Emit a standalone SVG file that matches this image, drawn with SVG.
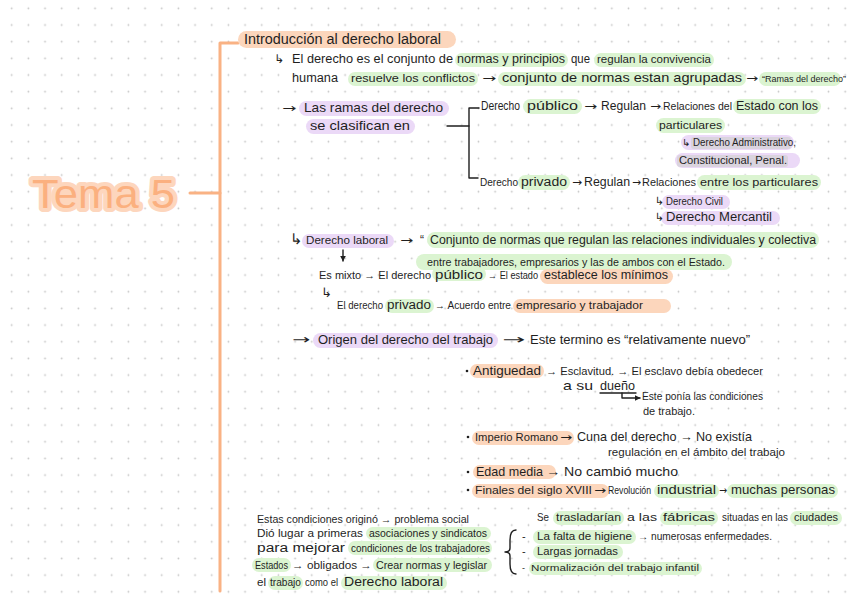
<svg xmlns="http://www.w3.org/2000/svg" width="848" height="599" viewBox="0 0 848 599">
<style>
.t{font-family:"Liberation Sans",Arial,sans-serif;fill:#1f1f1f;}
.a{font-family:"DejaVu Sans","Liberation Sans",sans-serif;fill:#1f1f1f;}
.hg{fill:#dbf4d1;}
.hp{fill:#ebd9f7;}
.ho{fill:#fcd6bc;}
.gr{fill:#dad4de;}
.ln{fill:none;stroke:#1f1f1f;stroke-width:1.4;stroke-linecap:round;stroke-linejoin:round;}
.ob{fill:none;stroke:#f9b284;stroke-width:3;stroke-linecap:round;stroke-linejoin:round;}
</style>
<defs>
<pattern id="dots" x="3.37" y="0" width="16.67" height="16.67" patternUnits="userSpaceOnUse">
<circle cx="8.33" cy="8.33" r="0.9" fill="#c4c4c4"/>
</pattern>
<marker id="ah" viewBox="0 0 10 10" refX="9" refY="5" markerWidth="6" markerHeight="6" orient="auto" markerUnits="userSpaceOnUse">
<path d="M0,0 L10,5 L0,10 z" fill="#1f1f1f"/>
</marker>
</defs>
<rect width="848" height="599" fill="#ffffff"/>
<rect width="848" height="599" fill="url(#dots)"/>

<g id="connectors">
<path class="ob" d="M238 43 H220 V591"/>
<path class="ob" d="M190 193 H220"/>
<path class="ln" d="M447 126 H469"/>
<path class="ln" d="M479 108 H469 V178 H478"/>
<path class="ln" d="M343 250 V261" marker-end="url(#ah)"/>
<path class="ln" d="M622 393 V398 H640" marker-end="url(#ah)"/>
<path class="ln" d="M516 530 Q510 530 510 540 V548 Q510 552 505 552 Q510 552 510 556 V564 Q510 574 516 574"/>
</g>

<g id="tema5">
<text x="32" y="208" font-family="Liberation Sans,Arial,sans-serif" font-size="40" textLength="143" lengthAdjust="spacingAndGlyphs" fill="#fbb07f" stroke="#fdd6bd" stroke-width="8" stroke-linejoin="round" paint-order="stroke">Tema 5</text>
</g>

<g id="titulo">
<rect class="ho" x="238" y="31" width="218" height="17" rx="8.5"/>
<text class="t" font-size="14" x="244" y="44" textLength="197" lengthAdjust="spacingAndGlyphs">Introducción al derecho laboral</text>
</g>

<g id="definicion">
<rect class="hg" x="455" y="53" width="113" height="14" rx="7"/>
<rect class="hg" x="594" y="53" width="120" height="14" rx="7"/>
<text class="a" font-size="12" x="274" y="63">↳</text>
<text class="t" font-size="12" x="292" y="63" textLength="161" lengthAdjust="spacingAndGlyphs">El derecho es el conjunto de</text>
<text class="t" font-size="12" x="457" y="63" textLength="108" lengthAdjust="spacingAndGlyphs">normas y principios</text>
<text class="t" font-size="12" x="571" y="63" textLength="19" lengthAdjust="spacingAndGlyphs">que</text>
<text class="t" font-size="11.5" x="597" y="63" textLength="114" lengthAdjust="spacingAndGlyphs">regulan la convivencia</text>
<rect class="hg" x="348" y="72" width="130" height="14" rx="7"/>
<rect class="hg" x="498" y="72" width="248" height="14" rx="7"/>
<rect class="hg" x="759" y="72" width="82" height="14" rx="7"/>
<text class="t" font-size="12" x="292" y="82" textLength="46" lengthAdjust="spacingAndGlyphs">humana</text>
<text class="t" font-size="11.5" x="351" y="82" textLength="124" lengthAdjust="spacingAndGlyphs">resuelve los conflictos</text>
<text class="a" font-size="11" x="482" y="82" textLength="14" lengthAdjust="spacingAndGlyphs">→</text>
<text class="t" font-size="13" x="502" y="82" textLength="240" lengthAdjust="spacingAndGlyphs">conjunto de normas estan agrupadas</text>
<text class="a" font-size="11" x="746" y="82" textLength="12" lengthAdjust="spacingAndGlyphs">→</text>
<text class="t" font-size="9" x="762" y="82">“Ramas del derecho”</text>
</g>

<g id="ramas">
<text class="a" font-size="12" x="282" y="112" textLength="14" lengthAdjust="spacingAndGlyphs">→</text>
<rect class="hp" x="299" y="101" width="150" height="15" rx="7.5"/>
<text class="t" font-size="13.5" x="304" y="112" textLength="139" lengthAdjust="spacingAndGlyphs">Las ramas del derecho</text>
<rect class="hp" x="306" y="119" width="109" height="15" rx="7.5"/>
<text class="t" font-size="13" x="310" y="130" textLength="100" lengthAdjust="spacingAndGlyphs">se clasifican en</text>
</g>

<g id="derecho-publico">
<rect class="hg" x="523" y="99" width="59" height="15" rx="7.5"/>
<rect class="hg" x="733" y="99" width="88" height="15" rx="7.5"/>
<text class="t" font-size="12" x="481" y="110" textLength="39" lengthAdjust="spacingAndGlyphs">Derecho</text>
<text class="t" font-size="13" x="527" y="110" textLength="51" lengthAdjust="spacingAndGlyphs">público</text>
<text class="a" font-size="11" x="584" y="110" textLength="13" lengthAdjust="spacingAndGlyphs">→</text>
<text class="t" font-size="12" x="601" y="110" textLength="45" lengthAdjust="spacingAndGlyphs">Regulan</text>
<text class="a" font-size="11" x="650" y="110" textLength="11" lengthAdjust="spacingAndGlyphs">→</text>
<text class="t" font-size="11" x="663" y="110" textLength="69" lengthAdjust="spacingAndGlyphs">Relaciones del</text>
<text class="t" font-size="12" x="736" y="110" textLength="82" lengthAdjust="spacingAndGlyphs">Estado con los</text>
<rect class="hg" x="656" y="118" width="69" height="15" rx="7.5"/>
<text class="t" font-size="11" x="659" y="129" textLength="63" lengthAdjust="spacingAndGlyphs">particulares</text>
<rect class="hp" x="681" y="135" width="113" height="15" rx="7.5"/>
<rect class="gr" x="691" y="137" width="100" height="12" rx="3"/>
<text class="a" font-size="10" x="682" y="146">↳</text>
<text class="t" font-size="10" x="693" y="146" textLength="103" lengthAdjust="spacingAndGlyphs">Derecho Administrativo,</text>
<rect class="hp" x="675" y="153" width="125" height="15" rx="7.5"/>
<rect class="gr" x="677" y="155" width="111" height="12" rx="3"/>
<text class="t" font-size="10.5" x="679" y="164" textLength="108" lengthAdjust="spacingAndGlyphs">Constitucional, Penal.</text>
</g>

<g id="derecho-privado">
<rect class="hg" x="518" y="175" width="52" height="15" rx="7.5"/>
<rect class="hg" x="697" y="175" width="124" height="15" rx="7.5"/>
<text class="t" font-size="11.5" x="480" y="186" textLength="38" lengthAdjust="spacingAndGlyphs">Derecho</text>
<text class="t" font-size="12.5" x="521" y="186" textLength="46" lengthAdjust="spacingAndGlyphs">privado</text>
<text class="a" font-size="11" x="572" y="186" textLength="10" lengthAdjust="spacingAndGlyphs">→</text>
<text class="t" font-size="12" x="584" y="186" textLength="46" lengthAdjust="spacingAndGlyphs">Regulan</text>
<text class="a" font-size="11" x="632" y="186" textLength="9" lengthAdjust="spacingAndGlyphs">→</text>
<text class="t" font-size="11.5" x="642" y="186" textLength="54" lengthAdjust="spacingAndGlyphs">Relaciones</text>
<text class="t" font-size="11.5" x="700" y="186" textLength="118" lengthAdjust="spacingAndGlyphs">entre los particulares</text>
<rect class="hp" x="662" y="195" width="68" height="14" rx="7"/>
<text class="a" font-size="11" x="655" y="205">↳</text>
<text class="t" font-size="10" x="666" y="205" textLength="57" lengthAdjust="spacingAndGlyphs">Derecho Civil</text>
<rect class="hp" x="661" y="211" width="119" height="14" rx="7"/>
<text class="a" font-size="11" x="655" y="221">↳</text>
<text class="t" font-size="12" x="666" y="221" textLength="106" lengthAdjust="spacingAndGlyphs">Derecho Mercantil</text>
</g>

<g id="derecho-laboral">
<text class="a" font-size="15" x="290" y="244">↳</text>
<rect class="hp" x="302" y="234" width="92" height="14" rx="7"/>
<text class="t" font-size="11" x="306" y="244" textLength="82" lengthAdjust="spacingAndGlyphs">Derecho laboral</text>
<text class="a" font-size="11" x="400" y="244" textLength="13" lengthAdjust="spacingAndGlyphs">→</text>
<rect class="hg" x="427" y="232" width="392" height="16" rx="8"/>
<text class="t" font-size="12" x="420" y="244">“</text>
<text class="t" font-size="12" x="430" y="244" textLength="386" lengthAdjust="spacingAndGlyphs">Conjunto de normas que regulan las relaciones individuales y colectiva</text>
<rect class="hg" x="416" y="254" width="316" height="16" rx="8"/>
<text class="t" font-size="11" x="427" y="266" textLength="298" lengthAdjust="spacingAndGlyphs">entre trabajadores, empresarios y las de ambos con el Estado.</text>
</g>

<g id="mixto">
<rect class="hg" x="432" y="267" width="54" height="14" rx="7"/>
<rect class="ho" x="540" y="269" width="133" height="15" rx="7.5"/>
<text class="t" font-size="11" x="319" y="279" textLength="112" lengthAdjust="spacingAndGlyphs">Es mixto → El derecho</text>
<text class="t" font-size="12.5" x="435" y="279" textLength="48" lengthAdjust="spacingAndGlyphs">público</text>
<text class="t" font-size="11" x="488" y="279" textLength="50" lengthAdjust="spacingAndGlyphs">→ El estado</text>
<text class="t" font-size="12.5" x="544" y="279" textLength="124" lengthAdjust="spacingAndGlyphs">establece los mínimos</text>
<text class="a" font-size="13" x="321" y="297">↳</text>
<rect class="hg" x="385" y="299" width="49" height="14" rx="7"/>
<rect class="ho" x="513" y="299" width="158" height="14" rx="7"/>
<text class="t" font-size="10.5" x="337" y="309" textLength="46" lengthAdjust="spacingAndGlyphs">El derecho</text>
<text class="t" font-size="12" x="387" y="309" textLength="44" lengthAdjust="spacingAndGlyphs">privado</text>
<text class="t" font-size="11" x="435" y="309" textLength="76" lengthAdjust="spacingAndGlyphs">→ Acuerdo entre</text>
<text class="t" font-size="11.5" x="516" y="309" textLength="127" lengthAdjust="spacingAndGlyphs">empresario y trabajador</text>
</g>

<g id="origen">
<text class="a" font-size="13" x="292" y="344" textLength="18" lengthAdjust="spacingAndGlyphs">→</text>
<rect class="hp" x="313" y="333" width="185" height="15" rx="7.5"/>
<text class="t" font-size="13" x="318" y="344" textLength="175" lengthAdjust="spacingAndGlyphs">Origen del derecho del trabajo</text>
<text class="a" font-size="13" x="502" y="344" textLength="23" lengthAdjust="spacingAndGlyphs">→</text>
<text class="t" font-size="12.5" x="530" y="344" textLength="220" lengthAdjust="spacingAndGlyphs">Este termino es “relativamente nuevo”</text>
</g>

<g id="antiguedad">
<circle cx="467" cy="371" r="1.3" fill="#1f1f1f"/>
<rect class="ho" x="470" y="364" width="74" height="14" rx="7"/>
<text class="t" font-size="13" x="473" y="375" textLength="68" lengthAdjust="spacingAndGlyphs">Antiguedad</text>
<text class="t" font-size="11.5" x="546" y="375" textLength="217" lengthAdjust="spacingAndGlyphs">→ Esclavitud. → El esclavo debía obedecer</text>
<text class="t" font-size="13" x="563" y="390" textLength="30" lengthAdjust="spacingAndGlyphs">a su</text>
<text class="t" font-size="13" x="600" y="390" textLength="35" lengthAdjust="spacingAndGlyphs">dueño</text>
<path class="ln" d="M600 393 H636"/>
<text class="t" font-size="10.5" x="642" y="400" textLength="121" lengthAdjust="spacingAndGlyphs">Este ponía las condiciones</text>
<text class="t" font-size="10" x="643" y="415" textLength="52" lengthAdjust="spacingAndGlyphs">de trabajo.</text>
</g>

<g id="imperio-romano">
<circle cx="468" cy="437" r="1.3" fill="#1f1f1f"/>
<rect class="ho" x="472" y="431" width="102" height="14" rx="7"/>
<text class="t" font-size="11.5" x="475" y="441" textLength="83" lengthAdjust="spacingAndGlyphs">Imperio Romano</text>
<text class="a" font-size="11" x="560" y="441" textLength="12" lengthAdjust="spacingAndGlyphs">→</text>
<text class="t" font-size="13" x="577" y="441" textLength="175" lengthAdjust="spacingAndGlyphs">Cuna del derecho → No existía</text>
<text class="t" font-size="10.5" x="608" y="456" textLength="177" lengthAdjust="spacingAndGlyphs">regulación en el ámbito del trabajo</text>
</g>

<g id="edad-media">
<circle cx="468" cy="472" r="1.3" fill="#1f1f1f"/>
<rect class="ho" x="473" y="465" width="83" height="14" rx="7"/>
<text class="t" font-size="13" x="476" y="476" textLength="67" lengthAdjust="spacingAndGlyphs">Edad media</text>
<text class="t" font-size="13" x="546" y="476" textLength="132" lengthAdjust="spacingAndGlyphs">→ No cambió mucho</text>
</g>

<g id="finales-siglo">
<circle cx="468" cy="490" r="1.3" fill="#1f1f1f"/>
<rect class="ho" x="472" y="484" width="137" height="14" rx="7"/>
<rect class="hg" x="654" y="484" width="65" height="14" rx="7"/>
<rect class="hg" x="727" y="484" width="111" height="14" rx="7"/>
<text class="t" font-size="11" x="475" y="494" textLength="117" lengthAdjust="spacingAndGlyphs">Finales del siglo XVIII</text>
<text class="a" font-size="11" x="594" y="494" textLength="12" lengthAdjust="spacingAndGlyphs">→</text>
<text class="t" font-size="10" x="608" y="494" textLength="43" lengthAdjust="spacingAndGlyphs">Revolución</text>
<text class="t" font-size="12" x="657" y="494" textLength="59" lengthAdjust="spacingAndGlyphs">industrial</text>
<text class="a" font-size="11" x="719" y="494" textLength="8" lengthAdjust="spacingAndGlyphs">→</text>
<text class="t" font-size="13" x="731" y="494" textLength="104" lengthAdjust="spacingAndGlyphs">muchas personas</text>
</g>

<g id="condiciones">
<text class="t" font-size="10.5" x="257" y="523" textLength="212" lengthAdjust="spacingAndGlyphs">Estas condiciones originó → problema social</text>
<rect class="hg" x="366" y="527" width="125" height="13" rx="6.5"/>
<text class="t" font-size="11.5" x="257" y="537" textLength="106" lengthAdjust="spacingAndGlyphs">Dió lugar a primeras</text>
<text class="t" font-size="10" x="369" y="537" textLength="118" lengthAdjust="spacingAndGlyphs">asociaciones y sindicatos</text>
<rect class="hg" x="348" y="541" width="144" height="14" rx="7"/>
<text class="t" font-size="12" x="257" y="552" textLength="88" lengthAdjust="spacingAndGlyphs">para mejorar</text>
<text class="t" font-size="10" x="351" y="552" textLength="139" lengthAdjust="spacingAndGlyphs">condiciones de los trabajadores</text>
<rect class="hg" x="252" y="558" width="39" height="14" rx="7"/>
<rect class="hg" x="373" y="558" width="119" height="14" rx="7"/>
<text class="t" font-size="10" x="255" y="569" textLength="33" lengthAdjust="spacingAndGlyphs">Estados</text>
<text class="t" font-size="11" x="292" y="569" textLength="80" lengthAdjust="spacingAndGlyphs">→ obligados →</text>
<text class="t" font-size="10.5" x="376" y="569" textLength="111" lengthAdjust="spacingAndGlyphs">Crear normas y legislar</text>
<rect class="hg" x="268" y="576" width="35" height="14" rx="7"/>
<rect class="hg" x="341" y="576" width="106" height="14" rx="7"/>
<text class="t" font-size="10.5" x="257" y="586" textLength="9" lengthAdjust="spacingAndGlyphs">el</text>
<text class="t" font-size="10" x="270" y="586" textLength="31" lengthAdjust="spacingAndGlyphs">trabajo</text>
<text class="t" font-size="10" x="305" y="586" textLength="33" lengthAdjust="spacingAndGlyphs">como el</text>
<text class="t" font-size="12" x="344" y="586" textLength="99" lengthAdjust="spacingAndGlyphs">Derecho laboral</text>
</g>

<g id="fabricas">
<rect class="hg" x="553" y="511" width="71" height="14" rx="7"/>
<rect class="hg" x="660" y="511" width="58" height="14" rx="7"/>
<rect class="hg" x="790" y="511" width="52" height="14" rx="7"/>
<text class="t" font-size="11" x="537" y="521" textLength="12" lengthAdjust="spacingAndGlyphs">Se</text>
<text class="t" font-size="11" x="556" y="521" textLength="65" lengthAdjust="spacingAndGlyphs">trasladarían</text>
<text class="t" font-size="11" x="627" y="521" textLength="30" lengthAdjust="spacingAndGlyphs">a las</text>
<text class="t" font-size="11" x="663" y="521" textLength="52" lengthAdjust="spacingAndGlyphs">fábricas</text>
<text class="t" font-size="11" x="722" y="521" textLength="66" lengthAdjust="spacingAndGlyphs">situadas en las</text>
<text class="t" font-size="11" x="794" y="521" textLength="44" lengthAdjust="spacingAndGlyphs">ciudades</text>
</g>

<g id="problemas">
<rect class="hg" x="533" y="530" width="103" height="14" rx="7"/>
<text class="t" font-size="11" x="522" y="540">-</text>
<text class="t" font-size="11" x="537" y="540" textLength="95" lengthAdjust="spacingAndGlyphs">La falta de higiene</text>
<text class="t" font-size="10" x="638" y="540" textLength="134" lengthAdjust="spacingAndGlyphs">→ numerosas enfermedades.</text>
<rect class="hg" x="533" y="545" width="90" height="14" rx="7"/>
<text class="t" font-size="11" x="522" y="555">-</text>
<text class="t" font-size="11" x="537" y="555" textLength="81" lengthAdjust="spacingAndGlyphs">Largas jornadas</text>
<rect class="hg" x="529" y="562" width="173" height="13" rx="6.5"/>
<text class="t" font-size="9" x="522" y="571">-</text>
<text class="t" font-size="9" x="531" y="571" textLength="168" lengthAdjust="spacingAndGlyphs">Normalización del trabajo infantil</text>
</g>
</svg>
